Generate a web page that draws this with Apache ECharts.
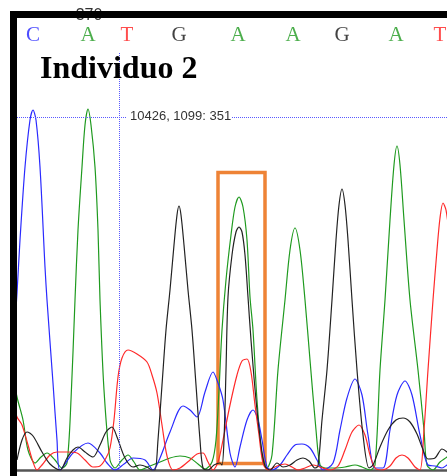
<!DOCTYPE html>
<html>
<head>
<meta charset="utf-8">
<script src="https://cdn.jsdelivr.net/npm/echarts@6/dist/echarts.min.js"></script>
<style>
  html, body { margin: 0; padding: 0; background: #fff; }
  #chart { width: 447px; height: 476px; }
</style>
</head>
<body>
<div id="chart"></div>
<script>
  // trace data: [position, signal]
  var blueTrace = [[-13,0],[-7,70],[0,177],[3,230],[8,303],[13,350],[16,360],[19,350],[23,303],[28,203],[30,170],[36,87],[40,30],[43,0],
    [56,17],[71,27],[83,17],[90,7],[98,0],[107,6],[116,12],[128,10],[136,0],[143,12],[153,38],[166,64],[173,60],[180,53],[188,78],[196,98],
    [201,87],[206,70],[213,17],[218,3],[223,23],[230,50],[236,60],[241,50],[245,30],[250,3],[255,0],[263,5],[270,15],[278,25],[285,26],[293,22],
    [300,10],[306,0],[316,7],[323,40],[330,72],[338,91],[345,75],[351,35],[358,2],[366,2],[373,40],[380,75],[388,89],[395,75],[403,35],[411,5],
    [418,4],[425,2],[430,5],[435,8]];
  var greenTrace = [[-5,100],[0,73],[6,50],[11,20],[18,7],[24,13],[30,17],[38,10],[45,2],[50,7],[54,70],[58,170],[61,240],[65,303],[68,345],
    [71,361],[74,345],[78,303],[81,240],[83,170],[87,80],[93,10],[98,2],[105,10],[111,15],[117,8],[123,0],[133,4],[143,8],[153,12],[163,14],
    [173,12],[181,6],[188,1],[195,8],[199,30],[202,80],[205,140],[209,190],[214,235],[218,263],[222,273],[226,263],[230,230],[233,173],[236,140],
    [240,70],[245,15],[250,2],[255,15],[261,100],[268,170],[273,220],[278,242],[283,220],[288,170],[293,110],[299,40],[303,5],[308,2],[318,2],
    [328,3],[338,5],[345,3],[353,0],[358,5],[363,100],[368,170],[373,250],[377,305],[380,324],[383,305],[387,250],[393,170],[401,100],[407,40],
    [410,5],[416,0],[423,8],[430,13],[435,18]];
  var blackTrace = [[0,10],[5,30],[10,38],[16,34],[25,18],[33,6],[43,0],[50,12],[56,20],[61,23],[68,18],[76,13],[83,25],[89,38],[95,43],
    [100,33],[108,12],[116,3],[123,5],[130,3],[135,0],[138,0],[141,30],[145,85],[149,140],[153,180],[157,225],[160,255],[162,264],[164,255],
    [167,225],[171,180],[175,140],[179,85],[183,30],[186,2],[191,0],[197,5],[203,7],[205,5],[207,30],[209,100],[211,173],[215,215],[219,238],
    [222,243],[225,238],[228,215],[231,173],[234,130],[239,70],[244,25],[248,4],[253,0],[260,7],[266,3],[273,5],[280,10],[286,12],[292,9],
    [298,2],[301,4],[305,50],[310,100],[315,170],[319,230],[322,265],[325,281],[328,265],[331,230],[335,170],[340,100],[346,35],[352,2],[356,5],
    [363,23],[371,40],[379,50],[386,52],[393,48],[400,36],[405,23],[411,11],[418,12],[425,21],[430,18],[435,12]];
  var redTrace = [[-5,70],[0,53],[5,45],[11,25],[16,8],[20,0],[25,5],[33,15],[40,18],[50,18],[60,17],[68,10],[76,3],[83,4],[89,12],[93,22],
    [97,50],[101,93],[105,112],[111,120],[120,116],[130,108],[135,95],[140,77],[145,45],[150,14],[156,0],[163,2],[173,10],[180,16],[186,17],
    [191,8],[196,0],[201,8],[206,30],[213,65],[220,95],[225,109],[230,111],[234,98],[238,65],[242,35],[246,7],[251,0],[260,4],[268,6],[275,3],
    [281,0],[288,2],[296,5],[303,3],[313,0],[321,4],[328,20],[335,38],[342,45],[348,35],[353,15],[358,2],[365,0],[373,4],[379,12],[385,15],
    [391,12],[398,3],[403,0],[407,40],[411,100],[416,170],[420,220],[423,252],[426,267],[429,260],[433,230]];

  var baseLetters = ['C', 'A', 'T', 'G', 'A', 'A', 'G', 'A', 'T'];
  var basePositions = [16, 71, 110, 162, 221, 276, 325, 379, 423];
  var baseColors = {A: '#1f9a1f', C: '#2020ff', G: '#111111', T: '#ff2020'};

  // cursor crosshair
  var cursorV = [[102.5, 0], [102.5, 418]];
  var cursorH1 = [[0, 352.5], [110, 352.5]];
  var cursorH2 = [[215, 352.5], [430, 352.5]];
  var cursorText = '10426, 1099: 351';
  var boxRange = [[201, 6.5], [248, 297.5]];

  var dom = document.getElementById('chart');
  var myChart = echarts.init(dom);

  var baseData = baseLetters.map(function (b, i) {
    return {value: [basePositions[i], 434.5], name: b, label: {color: baseColors[b]}};
  });

  function trace(name, data, color) {
    return {
      name: name,
      type: 'line',
      data: data,
      smooth: 0.3,
      showSymbol: false,
      symbol: 'none',
      animation: false,
      lineStyle: {color: color, width: 1.2}
    };
  }

  var cursorBlue = '#5a5aff';
  function cursorLine(data) {
    return {
      type: 'line',
      data: data,
      symbol: 'none',
      silent: true,
      z: 5,
      itemStyle: {color: cursorBlue},
      lineStyle: {color: cursorBlue, width: 1, type: [1, 1]}
    };
  }

  var option = {
    animation: false,
    grid: {left: 17, right: 0, top: 18, bottom: 6},
    xAxis: {
      type: 'value', min: 0, max: 430,
      axisLine: {show: true, onZero: false, lineStyle: {color: '#555', width: 2.5}},
      axisTick: {show: false}, axisLabel: {show: false}, splitLine: {show: false}
    },
    yAxis: {
      type: 'value', min: 0, max: 452,
      axisLine: {show: false}, axisTick: {show: false}, axisLabel: {show: false}, splitLine: {show: false}
    },
    series: [
      trace('A', greenTrace, '#1f9a1f'),
      trace('C', blueTrace, '#2a2aff'),
      trace('T', redTrace, '#ff2a2a'),
      trace('G', blackTrace, '#222222'),
      cursorLine(cursorV),
      cursorLine(cursorH1),
      cursorLine(cursorH2),
      {
        name: 'bases',
        type: 'scatter',
        z: 10,
        symbolSize: 1,
        itemStyle: {color: 'rgba(0,0,0,0)'},
        data: baseData,
        label: {
          show: true,
          position: 'inside',
          formatter: function (p) { return p.name; },
          fontFamily: 'Liberation Serif',
          fontSize: 21
        },
        markArea: {
          silent: true,
          itemStyle: {color: 'rgba(0,0,0,0)', borderColor: '#ee8336', borderWidth: 3.5},
          data: [[{coord: boxRange[0]}, {coord: boxRange[1]}]]
        }
      }
    ],
    graphic: [
      {type: 'text', x: 89, y: 16, z: 1, style: {text: '370', font: '16px "Liberation Sans"', fill: '#333', align: 'center', verticalAlign: 'middle'}},
      {type: 'text', x: 40, y: 70, z: 50, style: {text: 'Individuo 2', font: 'bold 32px "Liberation Serif"', fill: '#000', verticalAlign: 'middle'}},
      {type: 'text', x: 130, y: 116, z: 50, style: {text: cursorText, font: '13px "Liberation Sans"', fill: '#333', verticalAlign: 'middle'}},
      {type: 'rect', z: 100, shape: {x: 10, y: 11, width: 437, height: 7}, style: {fill: '#000'}},
      {type: 'rect', z: 100, shape: {x: 10, y: 11, width: 7, height: 465}, style: {fill: '#000'}}
    ]
  };

  myChart.setOption(option);
</script>
</body>
</html>
